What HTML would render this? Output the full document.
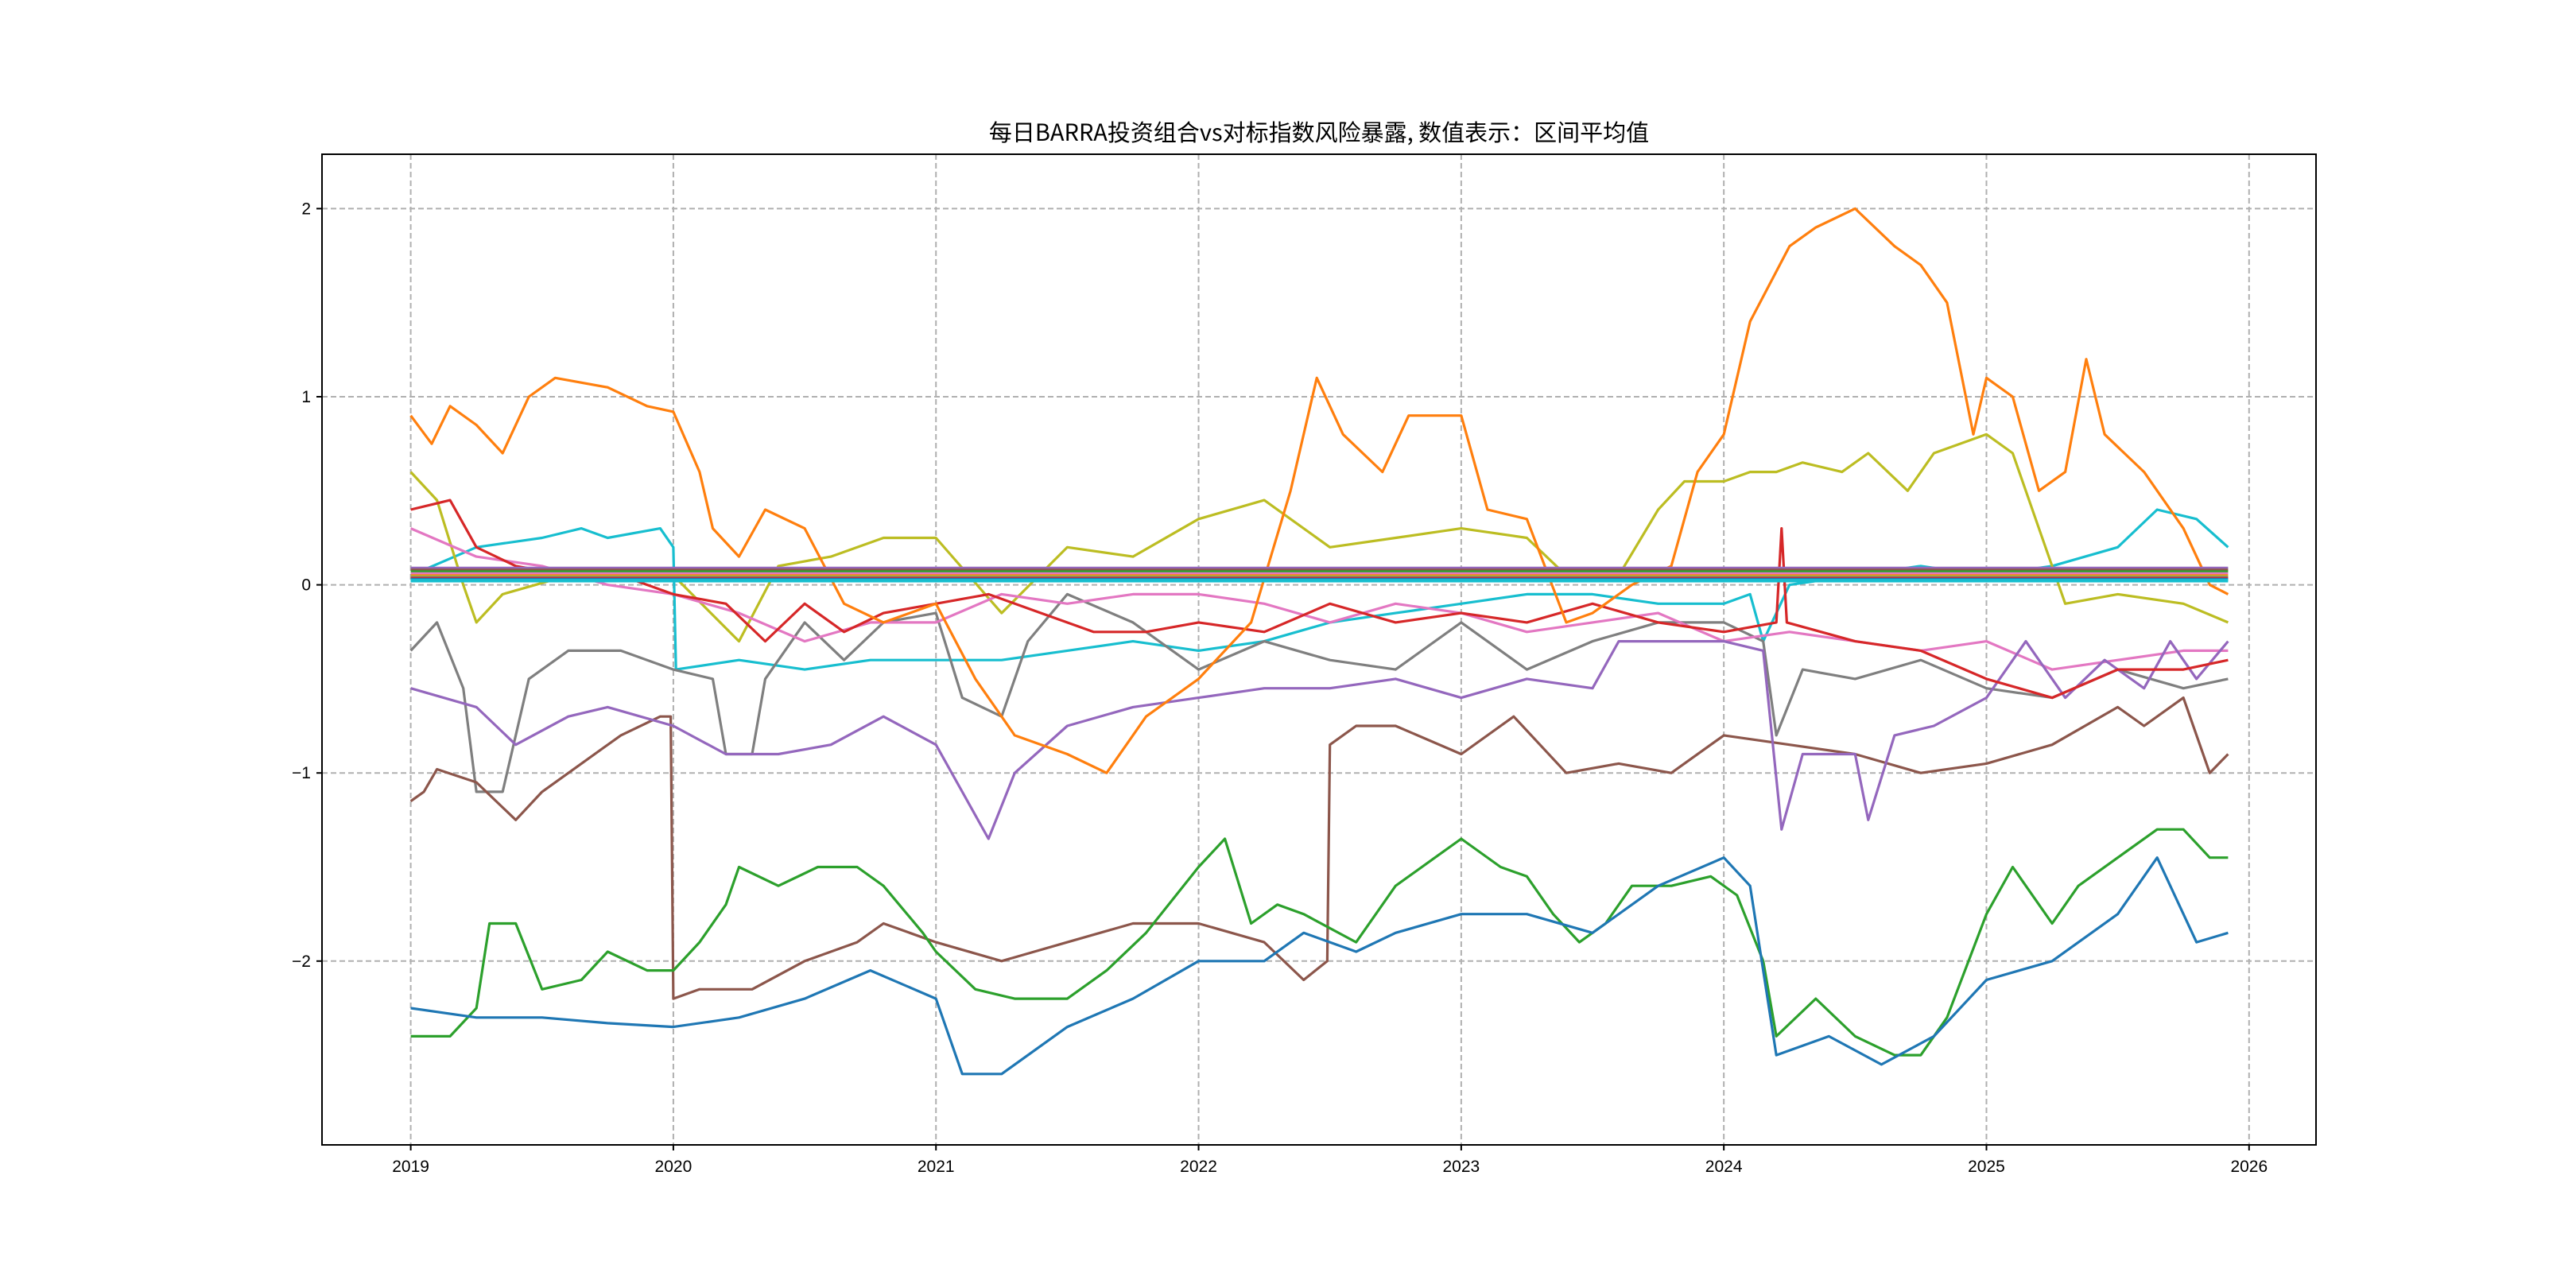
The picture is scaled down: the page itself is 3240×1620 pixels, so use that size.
<!DOCTYPE html>
<html><head><meta charset="utf-8"><style>
html,body{margin:0;padding:0;background:#fff;}
svg{display:block;font-family:"Liberation Sans","Noto Sans CJK SC",sans-serif;}
</style></head><body>
<svg id="chart" width="3240" height="1620" viewBox="0 0 3240 1620" xmlns="http://www.w3.org/2000/svg">
<rect width="3240" height="1620" fill="#fff"/>
<text x="1659" y="177" text-anchor="middle" font-size="29" font-family="'Noto Sans CJK SC',sans-serif">每日BARRA投资组合vs对标指数风险暴露, 数值表示：区间平均值</text>
<g id="grid"></g><g id="series"></g><g id="axes"></g>
<rect x="405" y="194" width="2508" height="1246" fill="none" stroke="#000" stroke-width="2"/>
</svg>
<script>
const xTicks=[2019,2020,2021,2022,2023,2024,2025,2026];
const yTicks=[-2,-1,0,1,2];
const blueX=[2019,2019.25,2019.5,2019.75,2020,2020.25,2020.5,2020.75,2021,2021.1,2021.25,2021.5,2021.75,2022,2022.25,2022.4,2022.6,2022.75,2023,2023.25,2023.5,2023.75,2024,2024.1,2024.2,2024.4,2024.6,2024.8,2025,2025.25,2025.5,2025.65,2025.8,2025.92];
const blueY=[-2.25,-2.3,-2.3,-2.33,-2.35,-2.3,-2.2,-2.05,-2.2,-2.6,-2.6,-2.35,-2.2,-2.0,-2.0,-1.85,-1.95,-1.85,-1.75,-1.75,-1.85,-1.6,-1.45,-1.6,-2.5,-2.4,-2.55,-2.4,-2.1,-2.0,-1.75,-1.45,-1.9,-1.85];
const orangeX=[2019,2019.08,2019.15,2019.25,2019.35,2019.45,2019.55,2019.75,2019.9,2020,2020.1,2020.15,2020.25,2020.35,2020.5,2020.65,2020.8,2021,2021.15,2021.3,2021.5,2021.65,2021.8,2022,2022.2,2022.35,2022.45,2022.55,2022.7,2022.8,2022.9,2023,2023.1,2023.25,2023.4,2023.5,2023.65,2023.8,2023.9,2024,2024.1,2024.25,2024.35,2024.5,2024.65,2024.75,2024.85,2024.95,2025,2025.1,2025.2,2025.3,2025.38,2025.45,2025.6,2025.75,2025.85,2025.92];
const orangeY=[0.9,0.75,0.95,0.85,0.7,1.0,1.1,1.05,0.95,0.92,0.6,0.3,0.15,0.4,0.3,-0.1,-0.2,-0.1,-0.5,-0.8,-0.9,-1.0,-0.7,-0.5,-0.2,0.5,1.1,0.8,0.6,0.9,0.9,0.9,0.4,0.35,-0.2,-0.15,0.0,0.1,0.6,0.8,1.4,1.8,1.9,2.0,1.8,1.7,1.5,0.8,1.1,1.0,0.5,0.6,1.2,0.8,0.6,0.3,0.0,-0.05];
const greenX=[2019,2019.15,2019.25,2019.3,2019.4,2019.5,2019.65,2019.75,2019.9,2020,2020.1,2020.2,2020.25,2020.4,2020.55,2020.7,2020.8,2020.95,2021,2021.15,2021.3,2021.5,2021.65,2021.8,2022,2022.1,2022.2,2022.3,2022.4,2022.6,2022.75,2022.9,2023,2023.15,2023.25,2023.35,2023.45,2023.55,2023.65,2023.8,2023.95,2024.05,2024.15,2024.2,2024.35,2024.5,2024.65,2024.75,2024.85,2025,2025.1,2025.25,2025.35,2025.5,2025.65,2025.75,2025.85,2025.92];
const greenY=[-2.4,-2.4,-2.25,-1.8,-1.8,-2.15,-2.1,-1.95,-2.05,-2.05,-1.9,-1.7,-1.5,-1.6,-1.5,-1.5,-1.6,-1.85,-1.95,-2.15,-2.2,-2.2,-2.05,-1.85,-1.5,-1.35,-1.8,-1.7,-1.75,-1.9,-1.6,-1.45,-1.35,-1.5,-1.55,-1.75,-1.9,-1.8,-1.6,-1.6,-1.55,-1.65,-2.0,-2.4,-2.2,-2.4,-2.5,-2.5,-2.3,-1.75,-1.5,-1.8,-1.6,-1.45,-1.3,-1.3,-1.45,-1.45];
const redX=[2019,2019.15,2019.25,2019.4,2019.6,2019.8,2020,2020.2,2020.35,2020.5,2020.65,2020.8,2021,2021.2,2021.4,2021.6,2021.8,2022,2022.25,2022.5,2022.75,2023,2023.25,2023.5,2023.75,2024,2024.2,2024.22,2024.24,2024.5,2024.75,2025,2025.25,2025.5,2025.75,2025.92];
const redY=[0.4,0.45,0.2,0.1,0.05,0.05,-0.05,-0.1,-0.3,-0.1,-0.25,-0.15,-0.1,-0.05,-0.15,-0.25,-0.25,-0.2,-0.25,-0.1,-0.2,-0.15,-0.2,-0.1,-0.2,-0.25,-0.2,0.3,-0.2,-0.3,-0.35,-0.5,-0.6,-0.45,-0.45,-0.4];
const purpleX=[2019,2019.25,2019.4,2019.6,2019.75,2020,2020.2,2020.4,2020.6,2020.8,2021,2021.1,2021.2,2021.3,2021.5,2021.75,2022,2022.25,2022.5,2022.75,2023,2023.25,2023.5,2023.6,2023.75,2024,2024.15,2024.22,2024.3,2024.5,2024.55,2024.65,2024.8,2025,2025.15,2025.3,2025.45,2025.6,2025.7,2025.8,2025.92];
const purpleY=[-0.55,-0.65,-0.85,-0.7,-0.65,-0.75,-0.9,-0.9,-0.85,-0.7,-0.85,-1.1,-1.35,-1.0,-0.75,-0.65,-0.6,-0.55,-0.55,-0.5,-0.6,-0.5,-0.55,-0.3,-0.3,-0.3,-0.35,-1.3,-0.9,-0.9,-1.25,-0.8,-0.75,-0.6,-0.3,-0.6,-0.4,-0.55,-0.3,-0.5,-0.3];
const brownX=[2019,2019.05,2019.1,2019.25,2019.4,2019.5,2019.65,2019.8,2019.95,2019.99,2020.0,2020.1,2020.3,2020.5,2020.7,2020.8,2021,2021.25,2021.5,2021.75,2022,2022.25,2022.4,2022.49,2022.5,2022.6,2022.75,2023,2023.2,2023.4,2023.6,2023.8,2024,2024.25,2024.5,2024.75,2025,2025.25,2025.5,2025.6,2025.75,2025.85,2025.92];
const brownY=[-1.15,-1.1,-0.98,-1.05,-1.25,-1.1,-0.95,-0.8,-0.7,-0.7,-2.2,-2.15,-2.15,-2.0,-1.9,-1.8,-1.9,-2.0,-1.9,-1.8,-1.8,-1.9,-2.1,-2.0,-0.85,-0.75,-0.75,-0.9,-0.7,-1.0,-0.95,-1.0,-0.8,-0.85,-0.9,-1.0,-0.95,-0.85,-0.65,-0.75,-0.6,-1.0,-0.9];
const pinkX=[2019,2019.25,2019.5,2019.75,2020,2020.25,2020.5,2020.75,2021,2021.25,2021.5,2021.75,2022,2022.25,2022.5,2022.75,2023,2023.25,2023.5,2023.75,2024,2024.25,2024.5,2024.75,2025,2025.25,2025.5,2025.75,2025.92];
const pinkY=[0.3,0.15,0.1,0.0,-0.05,-0.15,-0.3,-0.2,-0.2,-0.05,-0.1,-0.05,-0.05,-0.1,-0.2,-0.1,-0.15,-0.25,-0.2,-0.15,-0.3,-0.25,-0.3,-0.35,-0.3,-0.45,-0.4,-0.35,-0.35];
const grayX=[2019,2019.1,2019.2,2019.25,2019.35,2019.45,2019.6,2019.8,2020,2020.15,2020.2,2020.3,2020.35,2020.5,2020.65,2020.8,2021,2021.1,2021.25,2021.35,2021.5,2021.75,2022,2022.25,2022.5,2022.75,2023,2023.25,2023.5,2023.75,2024,2024.15,2024.2,2024.3,2024.5,2024.75,2025,2025.25,2025.5,2025.75,2025.92];
const grayY=[-0.35,-0.2,-0.55,-1.1,-1.1,-0.5,-0.35,-0.35,-0.45,-0.5,-0.9,-0.9,-0.5,-0.2,-0.4,-0.2,-0.15,-0.6,-0.7,-0.3,-0.05,-0.2,-0.45,-0.3,-0.4,-0.45,-0.2,-0.45,-0.3,-0.2,-0.2,-0.3,-0.8,-0.45,-0.5,-0.4,-0.55,-0.6,-0.45,-0.55,-0.5];
const oliveX=[2019,2019.1,2019.2,2019.25,2019.35,2019.6,2020,2020.25,2020.4,2020.6,2020.8,2021,2021.25,2021.5,2021.75,2022,2022.25,2022.5,2022.75,2023,2023.25,2023.4,2023.6,2023.75,2023.85,2024,2024.1,2024.2,2024.3,2024.45,2024.55,2024.7,2024.8,2025,2025.1,2025.2,2025.3,2025.5,2025.75,2025.92];
const oliveY=[0.6,0.45,0.0,-0.2,-0.05,0.05,0.05,-0.3,0.1,0.15,0.25,0.25,-0.15,0.2,0.15,0.35,0.45,0.2,0.25,0.3,0.25,0.05,0.05,0.4,0.55,0.55,0.6,0.6,0.65,0.6,0.7,0.5,0.7,0.8,0.7,0.3,-0.1,-0.05,-0.1,-0.2];
const cyanX=[2019,2019.25,2019.5,2019.65,2019.75,2019.95,2020.0,2020.01,2020.25,2020.5,2020.75,2021,2021.25,2021.5,2021.75,2022,2022.25,2022.5,2022.75,2023,2023.25,2023.5,2023.75,2024,2024.1,2024.15,2024.25,2024.5,2024.75,2025,2025.25,2025.5,2025.65,2025.8,2025.92];
const cyanY=[0.05,0.2,0.25,0.3,0.25,0.3,0.2,-0.45,-0.4,-0.45,-0.4,-0.4,-0.4,-0.35,-0.3,-0.35,-0.3,-0.2,-0.15,-0.1,-0.05,-0.05,-0.1,-0.1,-0.05,-0.3,0.0,0.05,0.1,0.05,0.1,0.2,0.4,0.35,0.2];
const flatLevels=[0.09,0.08,0.07,0.06,0.05,0.045,0.04,0.035,0.03,0.025,0.02];
const flatColors=['#9467bd','#8c564b','#2ca02c','#e377c2','#ff7f0e','#bcbd22','#7f7f7f','#d62728','#1f77b4','#17becf','#17becf'];

const L=405,R=2913,T=194,B=1440;
const X=v=>516.6+(v-2019)*(2828.8-516.6)/7;
const Y=v=>735.6-v*236.6;
const NS='http://www.w3.org/2000/svg';
function mk(tag,attrs,parent){const e=document.createElementNS(NS,tag);for(const k in attrs)e.setAttribute(k,attrs[k]);parent.appendChild(e);return e;}
const grid=document.getElementById('grid'),axes=document.getElementById('axes'),ser=document.getElementById('series');
xTicks.forEach(t=>{
  const g=mk('line',{x1:X(t),x2:X(t),y1:T,y2:B,stroke:'#b0b0b0','stroke-width':2,'stroke-dasharray':'7,4'},grid);
  
  
  const tk=mk('line',{x1:X(t),x2:X(t),y1:B,y2:B+7,stroke:'#000','stroke-width':2},axes);
  
  
  const tx=mk('text',{x:X(t),y:B+34,'text-anchor':'middle','font-size':21},axes);
  tx.textContent=t;
  
  
});
yTicks.forEach(t=>{
  const g=mk('line',{x1:L,x2:R,y1:Y(t),y2:Y(t),stroke:'#b0b0b0','stroke-width':2,'stroke-dasharray':'7,4'},grid);
  
  
  const tk=mk('line',{x1:L-7,x2:L,y1:Y(t),y2:Y(t),stroke:'#000','stroke-width':2},axes);
  
  
  const tx=mk('text',{x:L-14,y:Y(t)+7,'text-anchor':'end','font-size':21},axes);
  tx.textContent=t<0?'\u2212'+Math.abs(t):t;
  
  
});
function line(xs,ys,color,name){
  const d=xs.map((x,i)=>(i?'L':'M')+X(x).toFixed(1)+','+Y(ys[i]).toFixed(1)).join('');
  const p=mk('path',{d:d,fill:'none',stroke:color,'stroke-width':3.2,'stroke-linejoin':'round'},ser);
  
  
}
line(cyanX,cyanY,'#17becf','series-cyan');
line(oliveX,oliveY,'#bcbd22','series-olive');
line(grayX,grayY,'#7f7f7f','series-gray');
line(pinkX,pinkY,'#e377c2','series-pink');
line(brownX,brownY,'#8c564b','series-brown');
line(purpleX,purpleY,'#9467bd','series-purple');
line(redX,redY,'#d62728','series-red');
line(greenX,greenY,'#2ca02c','series-green');
line(orangeX,orangeY,'#ff7f0e','series-orange');
line(blueX,blueY,'#1f77b4','series-blue');
flatLevels.forEach((v,i)=>{
  line([2019,2025.92],[v,v],flatColors[i],'series-flat-'+i);
});
</script>
</body></html>
